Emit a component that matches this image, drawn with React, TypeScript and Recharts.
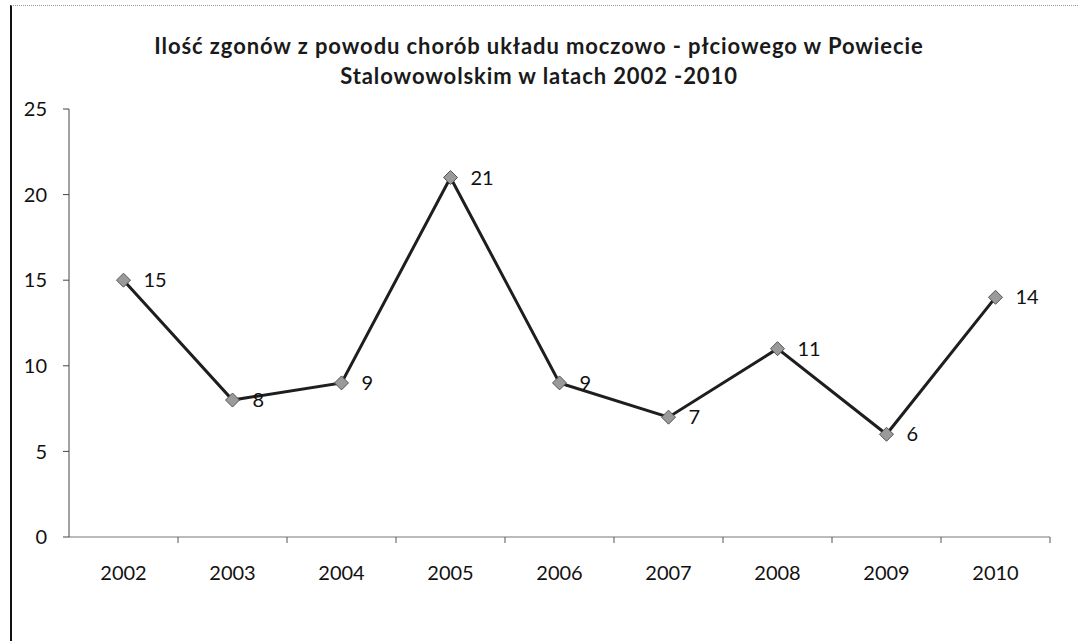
import { LineChart, Line, XAxis, YAxis, LabelList } from 'recharts';

const years = ['2002', '2003', '2004', '2005', '2006', '2007', '2008', '2009', '2010'];
const deaths = [15, 8, 9, 21, 9, 7, 11, 6, 14];
const yTicks = [0, 5, 10, 15, 20, 25];

const data = years.map((year, i) => ({ year, deaths: deaths[i] }));

const FONT = 'Lato, "Noto Sans", sans-serif';

const Diamond = (props: any) => {
  const { cx, cy, index } = props;
  if (cx == null || cy == null) return null;
  const r = 7;
  return (
    <polygon
      key={`d-${index}`}
      points={`${cx},${cy - r} ${cx + r},${cy} ${cx},${cy + r} ${cx - r},${cy}`}
      fill="#9a9a9a"
      stroke="#555"
      strokeWidth={1}
    />
  );
};

const XTick = (props: any) => {
  const { x, y, payload } = props;
  const off = payload?.offset ?? 0;
  return (
    <g>
      <line x1={x + off} x2={x + off} y1={y} y2={y + 6} stroke="#555" strokeWidth={1} />
      <text x={x} y={y + 43} textAnchor="middle" fill="#111" fontSize={20} fontFamily={FONT}>
        {payload.value}
      </text>
    </g>
  );
};

export default function App() {
  return (
    <div style={{ position: 'absolute', left: 0, top: 0, width: 1078, height: 641, background: '#fff' }}>
      <div
        style={{
          position: 'absolute', left: 10, top: 5, width: 1068, height: 636,
          borderLeft: '2px solid #111', borderTop: '1px dotted #999', boxSizing: 'border-box',
        }}
      />
      <div
        style={{
          position: 'absolute', left: 0, top: 31, width: 1078, textAlign: 'center',
          fontFamily: FONT, fontWeight: 700, fontSize: 22, letterSpacing: 0.9,
          lineHeight: '30px', color: '#1a1a1a',
        }}
      >
        Ilość zgonów z powodu chorób układu moczowo - płciowego w Powiecie
        <br />
        Stalowowolskim w latach 2002 -2010
      </div>
      <LineChart
        width={1078}
        height={641}
        data={data}
        margin={{ top: 109, right: 28, left: 19, bottom: 44 }}
        style={{ position: 'absolute', left: 0, top: 0 }}
      >
        <XAxis
          dataKey="year"
          scale="band"
          height={60}
          stroke="#777"
          tickSize={0}
          tickMargin={0}
          tick={<XTick />}
          interval={0}
        />
        <YAxis
          width={50}
          domain={[0, 25]}
          ticks={yTicks}
          stroke="#444"
          tickSize={6}
          tickMargin={16}
          tick={{ fill: '#111', fontSize: 20, fontFamily: FONT }}
        />
        <Line
          dataKey="deaths"
          stroke="#1e1e1e"
          strokeWidth={3}
          dot={<Diamond />}
          activeDot={false}
          isAnimationActive={false}
        >
          <LabelList
            dataKey="deaths"
            position="right"
            offset={20}
            fill="#111"
            fontSize={20}
            fontFamily={FONT}
          />
        </Line>
      </LineChart>
    </div>
  );
}
